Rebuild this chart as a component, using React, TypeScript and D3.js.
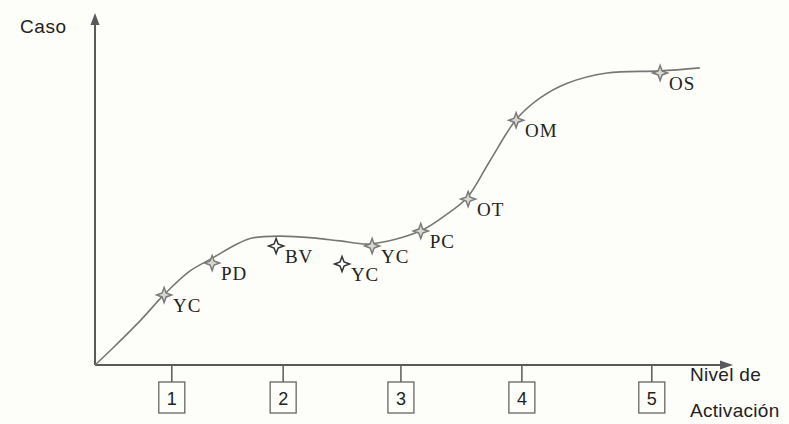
import React from "react";
import * as d3 from "d3";

// Activation curve (x: activation scale 0-100, y: case scale 0-100)
const curveX = [0, 2.8, 7, 10.9, 14.8, 18.4, 22.2, 24.7, 28.9, 34, 38.3, 43, 50.8, 55, 58.1, 61.7, 65.9, 69.5, 73.8, 80, 88.3, 94.5];
const curveY = [0, 5, 12.9, 20.9, 27.6, 31.5, 35.6, 37.4, 37.9, 37.4, 36.5, 35.6, 39.4, 44.4, 49.1, 60, 72.4, 78.5, 82.9, 85.9, 86.5, 87.4];

// Case markers
const caseLabels = ["YC", "PD", "BV", "YC", "YC", "PC", "OT", "OM", "OS"];
const caseX = [10.8, 18.3, 28.3, 38.6, 43.3, 50.9, 58.3, 65.8, 88.3];
const caseY = [20.6, 30, 35, 29.7, 35, 39.4, 48.8, 72, 85.9];
const caseOnCurve = [true, true, false, false, true, true, true, true, true];

// Activation level ticks
const levelTicks = [12, 29.4, 47.8, 66.7, 87];
const levelLabels = ["1", "2", "3", "4", "5"];

const W = 789;
const H = 424;
const x0 = 95;
const y0 = 365;

export default function App() {
  const xs = d3.scaleLinear().domain([0, 100]).range([x0, x0 + 640]);
  const ys = d3.scaleLinear().domain([0, 100]).range([y0, y0 - 340]);

  const pts: [number, number][] = curveX.map((v, i) => [v, curveY[i]]);
  const line = d3
    .line<[number, number]>()
    .x((d) => xs(d[0]))
    .y((d) => ys(d[1]))
    .curve(d3.curveCatmullRom.alpha(0.5));

  const r = 7.5;
  const w = 2;
  const star = `M0,${-r}L${w},${-w}L${r},0L${w},${w}L0,${r}L${-w},${w}L${-r},0L${-w},${-w}Z`;

  const axisColor = "#5a5a5a";
  const xEnd = 733;
  const yTop = 13;
  const sans = "Liberation Sans, Arial, sans-serif";

  return (
    <svg
      width={W}
      height={H}
      style={{ position: "fixed", left: 0, top: 0, background: "#fdfdf9" }}
    >
      {/* axes */}
      <line x1={x0} y1={y0} x2={x0} y2={yTop + 10} stroke={axisColor} strokeWidth={2} />
      <path d={`M${x0},${yTop}L${x0 + 4.5},${yTop + 12}L${x0 - 4.5},${yTop + 12}Z`} fill={axisColor} />
      <line x1={x0} y1={y0} x2={xEnd - 10} y2={y0} stroke={axisColor} strokeWidth={2} />
      <path d={`M${xEnd},${y0}L${xEnd - 13},${y0 - 4.5}L${xEnd - 13},${y0 + 4.5}Z`} fill={axisColor} />

      {/* ticks with boxed labels */}
      {levelTicks.map((t, i) => (
        <g key={i} transform={`translate(${xs(t)},0)`}>
          <line x1={0} y1={y0} x2={0} y2={382} stroke={axisColor} strokeWidth={1.5} />
          <rect x={-13} y={382} width={26} height={31} fill="none" stroke="#666" strokeWidth={1.3} />
          <text x={0} y={405} textAnchor="middle" fontFamily={sans} fontSize={18} fill="#222">
            {levelLabels[i]}
          </text>
        </g>
      ))}

      {/* curve */}
      <path d={line(pts) || ""} fill="none" stroke="#777" strokeWidth={1.6} />

      {/* case markers */}
      {caseLabels.map((lab, i) => (
        <g key={i} transform={`translate(${xs(caseX[i])},${ys(caseY[i])})`}>
          <path
            d={star}
            fill={caseOnCurve[i] ? "#d8d8d0" : "#ffffff"}
            stroke={caseOnCurve[i] ? "#7a7a7a" : "#333"}
            strokeWidth={1.5}
          />
          <text
            x={9}
            y={17}
            fontFamily="Liberation Serif, Times New Roman, serif"
            fontSize={19}
            letterSpacing={0.8}
            fill="#222"
          >
            {lab}
          </text>
        </g>
      ))}

      {/* axis titles */}
      <text x={20} y={33} fontFamily={sans} fontSize={19} letterSpacing={0.6} fill="#222">
        Caso
      </text>
      <text x={690} y={381} fontFamily={sans} fontSize={19} letterSpacing={0.3} fill="#222">
        Nivel de
      </text>
      <text x={690} y={417} fontFamily={sans} fontSize={19} letterSpacing={0.3} fill="#222">
        Activación
      </text>
    </svg>
  );
}
